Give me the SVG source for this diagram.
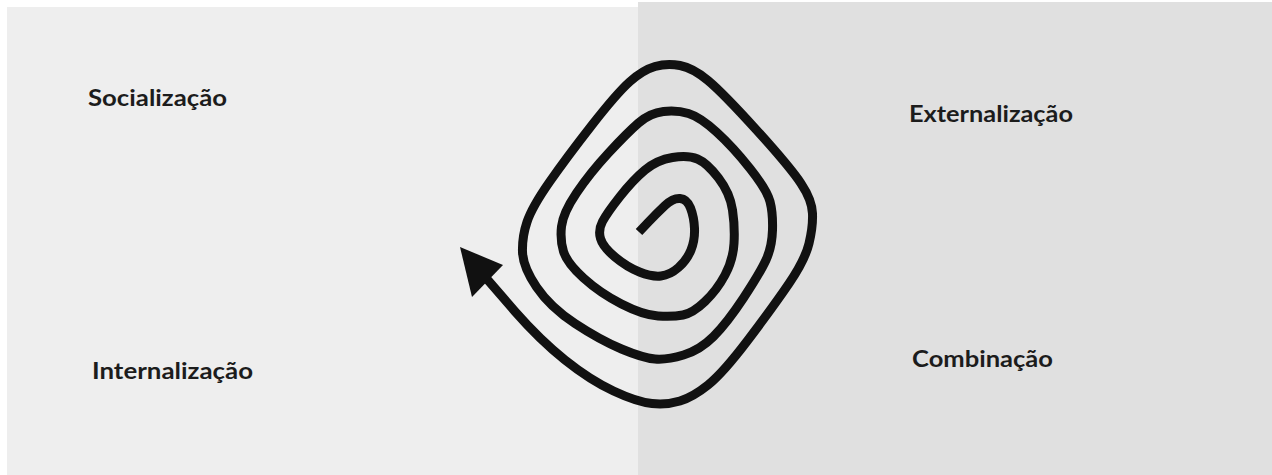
<svg xmlns="http://www.w3.org/2000/svg" width="1272" height="475" viewBox="0 0 1272 475">
<style>
.lbl{font-family:Lato,"Open Sans","Noto Sans",sans-serif;font-weight:700;font-size:23px;fill:#1c1c1c}
.sp{fill:none;stroke:#111;stroke-width:9;stroke-linecap:butt;stroke-linejoin:round}
</style>
<rect x="0" y="0" width="1272" height="475" fill="#ffffff"/>
<rect id="left-panel" x="7" y="7" width="631" height="468" fill="#eeeeee"/>
<rect id="right-panel" x="638" y="2" width="634" height="473" fill="#e0e0e0"/>
<g id="connectors">
<path class="sp" d="M 639 232 L 648 222.5 Q 657 213 665 205.5 Q 673 198 680 198.5 Q 687 199 690.5 208 Q 694 217 694.5 228.5 Q 695 240 691 250 Q 687 260 678.5 267.5 Q 670 275 661 276 Q 652 277 639.5 272 Q 627 267 615 257 Q 603 247 600.5 238.5 Q 598 230 602.5 221.5 Q 607 213 620 196.5 Q 633 180 645 170 Q 657 160 672.5 157.5 Q 688 155 697.5 159 Q 707 163 718.5 178 Q 730 193 732.5 210 Q 735 227 734 243.5 Q 733 260 725 275 Q 717 290 705 301.5 Q 693 313 683 315 Q 673 317 658 316 Q 643 315 621.5 304 Q 600 293 583.5 278 Q 567 263 563.5 251.5 Q 560 240 561.5 226.5 Q 563 213 576.5 193 Q 590 173 608.5 153 Q 627 133 638.5 123 Q 650 113 663.5 111.5 Q 677 110 688.5 113.5 Q 700 117 716.5 132 Q 733 147 750 168.5 Q 767 190 770 201.5 Q 773 213 772.5 230 Q 772 247 766 260 Q 760 273 743.5 298 Q 727 323 713.5 336.5 Q 700 350 683.5 355 Q 667 360 655 359 Q 643 358 621.5 349 Q 600 340 575 323.5 Q 550 307 536.5 287 Q 523 267 522.5 252 Q 522 237 527 222 Q 532 207 549.5 182 Q 567 157 592 125 Q 617 93 630 81.5 Q 643 70 655 66.5 Q 667 63 680 65.5 Q 693 68 708 80.5 Q 723 93 756.5 130 Q 790 167 801 183.5 Q 812 200 812.5 213.5 Q 813 227 809 243.5 Q 805 260 789 283.5 Q 773 307 748 340 Q 723 373 708 385 Q 693 397 680 401 Q 667 405 652 403.5 Q 637 402 613.5 391 Q 590 380 565 360 Q 540 340 515 311.5 L 480 271"/>
<polygon points="460,247 503,265 472,297" fill="#111"/>
</g>
<g id="socializacao"><text class="lbl" x="88" y="106" textLength="139" lengthAdjust="spacingAndGlyphs">Socialização</text></g>
<g id="externalizacao"><text class="lbl" x="909" y="122" textLength="164" lengthAdjust="spacingAndGlyphs">Externalização</text></g>
<g id="internalizacao"><text class="lbl" x="92" y="379" textLength="161" lengthAdjust="spacingAndGlyphs">Internalização</text></g>
<g id="combinacao"><text class="lbl" x="912" y="367" textLength="141" lengthAdjust="spacingAndGlyphs">Combinação</text></g>
</svg>
